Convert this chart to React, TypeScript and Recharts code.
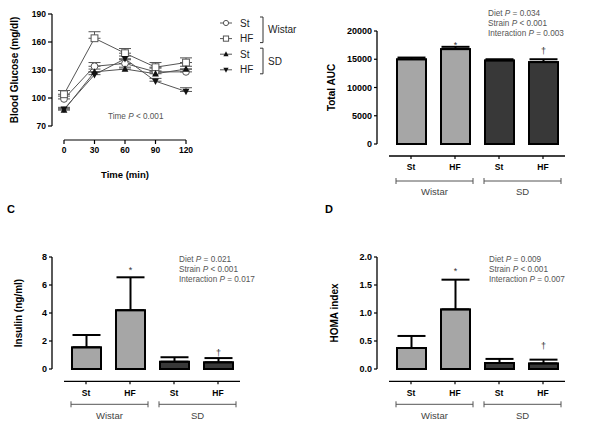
import React from 'react';
import { LineChart, Line, BarChart, Bar, XAxis, YAxis, ErrorBar, Legend, ReferenceLine } from 'recharts';

const FONT = '"Liberation Sans", Arial, sans-serif';
const LIGHT = '#a6a6a6';
const DARK = '#383838';

// A: glucose tolerance curve (mg/dl), mean and SEM
const times = [0, 30, 60, 90, 120];
const wistarSt = [99, 134, 137, 128, 128];
const wistarStErr = [3, 4, 4, 4, 3];
const wistarHF = [104, 164, 148, 133, 138];
const wistarHFErr = [4, 7, 5, 5, 5];
const sdSt = [87, 128, 131, 126, 131];
const sdStErr = [2, 3, 2, 3, 3];
const sdHF = [88, 125, 142, 118, 107];
const sdHFErr = [2, 3, 3, 3, 4];
const glucoseTicks = [70, 100, 130, 160, 190];

// groups shared by the bar panels
const diets = ['St', 'HF', 'St', 'HF'];
const strains = ['Wistar', 'Wistar', 'SD', 'SD'];
const marks = ['', '*', '', '\u2020'];

const aucMean = [15000, 16800, 14800, 14500];
const aucSem = [300, 400, 200, 500];
const aucTicks = [0, 5000, 10000, 15000, 20000];

const insulinMean = [1.55, 4.2, 0.52, 0.48];
const insulinSem = [0.88, 2.35, 0.32, 0.3];
const insulinTicks = [0, 2, 4, 6, 8];

const homaMean = [0.375, 1.065, 0.107, 0.1];
const homaSem = [0.215, 0.53, 0.073, 0.067];
const homaTicks = [0, 0.5, 1, 1.5, 2];

const glucoseSeries = [
  { key: 'wSt', name: 'St', strain: 'Wistar', marker: 'circle', values: wistarSt, errs: wistarStErr },
  { key: 'wHF', name: 'HF', strain: 'Wistar', marker: 'square', values: wistarHF, errs: wistarHFErr },
  { key: 'sSt', name: 'St', strain: 'SD', marker: 'up', values: sdSt, errs: sdStErr },
  { key: 'sHF', name: 'HF', strain: 'SD', marker: 'down', values: sdHF, errs: sdHFErr },
];

const glucoseData = times.map((t, i) => {
  const row: any = { time: t };
  glucoseSeries.forEach((s) => {
    row[s.key] = s.values[i];
    row[s.key + 'Err'] = [0, s.errs[i]];
  });
  return row;
});

const barRows = (means: number[], sems: number[]) =>
  means.map((m, i) => ({
    key: `${strains[i]}-${diets[i]}`,
    diet: diets[i],
    strain: strains[i],
    mark: marks[i],
    value: m,
    sem: sems[i],
    err: [0, sems[i]],
  }));

function Marker({ kind, cx, cy, r }: { kind: string; cx: number; cy: number; r: number }) {
  if (kind === 'circle') return <circle cx={cx} cy={cy} r={r} fill="#fff" stroke="#555" strokeWidth={1} />;
  if (kind === 'square')
    return <rect x={cx - r} y={cy - r} width={2 * r} height={2 * r} fill="#fff" stroke="#555" strokeWidth={1} />;
  if (kind === 'up')
    return <polygon points={`${cx},${cy - r * 1.1} ${cx + r},${cy + r * 0.8} ${cx - r},${cy + r * 0.8}`} fill="#111" />;
  return <polygon points={`${cx},${cy + r * 1.1} ${cx + r},${cy - r * 0.8} ${cx - r},${cy - r * 0.8}`} fill="#111" />;
}

const yTitle = (text: string, cx: number) => (props: any) => {
  const vb = props.viewBox;
  const cy = vb.y + vb.height / 2;
  return (
    <text x={cx} y={cy} transform={`rotate(-90 ${cx} ${cy})`} textAnchor="middle" dominantBaseline="central"
      fontSize={10} fontWeight="bold" fill="#000" fontFamily={FONT}>
      {text}
    </text>
  );
};

const tickStyle = (size: number) => ({ fontSize: size, fontWeight: 'bold', fill: '#000', fontFamily: FONT });

// legend keeps the series order (Recharts sorts its payload by name)
function GlucoseLegend(props: any) {
  const rowY = (i: number) => 13 + i * 15.6;
  const items = props.payload || [];
  const groups = ['Wistar', 'SD'];
  return (
    <svg width={90} height={72} style={{ overflow: 'visible' }}>
      {glucoseSeries.map((s, i) => {
        const it = items.find((p: any) => p.dataKey === s.key);
        const y = rowY(i);
        return (
          <g key={s.key}>
            <line x1={5} x2={17} y1={y} y2={y} stroke="#555" strokeWidth={1} />
            <Marker kind={s.marker} cx={11} cy={y} r={2.6} />
            <text x={25} y={y} dominantBaseline="central" fontSize={10} fill="#222" fontFamily={FONT}>{it ? it.value : s.name}</text>
          </g>
        );
      })}
      {groups.map((g, gi) => {
        const top = rowY(gi * 2) - 6;
        const bottom = rowY(gi * 2 + 1) + 4;
        return (
          <g key={g}>
            <path d={`M45,${top} H48 V${bottom} H45`} fill="none" stroke="#333" strokeWidth={1} />
            <text x={53} y={(top + bottom) / 2} dominantBaseline="central" fontSize={10} fill="#222" fontFamily={FONT}>{g}</text>
          </g>
        );
      })}
    </svg>
  );
}

function TimeTick(props: any) {
  const { x, y, payload } = props;
  return (
    <g>
      <line x1={x} x2={x} y1={y + 14} y2={y + 18} stroke="#000" strokeWidth={1.2} />
      <text x={x} y={y + 26.5} textAnchor="middle" style={tickStyle(8.5)}>{payload.value}</text>
    </g>
  );
}

function GlucoseChart() {
  return (
    <LineChart width={300} height={200} data={glucoseData} margin={{ top: 14, right: 114, bottom: 0, left: 0 }} style={{ fontFamily: FONT }}>
      <XAxis dataKey="time" type="number" domain={[0, 120]} ticks={times} padding={{ left: 12, right: 0 }}
        axisLine={false} tickLine={false} tickSize={0} tickMargin={0} height={74} tick={<TimeTick />}
        label={(p: any) => {
          const vb = p.viewBox;
          return (
            <text x={vb.x + (vb.width + 12) / 2} y={vb.y + 52} textAnchor="middle" fontSize={9.5} fontWeight="bold" fill="#000" fontFamily={FONT}>
              Time (min)
            </text>
          );
        }} />
      <YAxis domain={[70, 190]} ticks={glucoseTicks} allowDataOverflow width={52} tickSize={4} tickMargin={2}
        axisLine={{ stroke: '#000', strokeWidth: 1.2 }} tickLine={{ stroke: '#000', strokeWidth: 1.2 }}
        tick={tickStyle(8.5)} label={yTitle('Blood Glucose (mg/dl)', 14)} />
      <ReferenceLine segment={[{ x: 0, y: 55 }, { x: 120, y: 55 }]} stroke="#000" strokeWidth={1.2} ifOverflow="visible" />
      {glucoseSeries.map((s) => (
        <Line key={s.key} dataKey={s.key} name={s.name} stroke="#555" strokeWidth={1} isAnimationActive={false}
          dot={(p: any) => <Marker key={`${s.key}-${p.index}`} kind={s.marker} cx={p.cx} cy={p.cy} r={3.4} />}
          activeDot={false}>
          <ErrorBar dataKey={s.key + 'Err'} width={6} stroke="#555" strokeWidth={1} direction="y" isAnimationActive={false} />
        </Line>
      ))}
      <Legend layout="vertical" align="center" verticalAlign="middle" content={<GlucoseLegend />}
        wrapperStyle={{ left: 215, top: 10, width: 90, height: 72 }} />
    </LineChart>
  );
}

type AxisDy = { axis: number; label: number; bracket: number; group: number };

function GroupTick(props: any) {
  const { x, y, payload, index, rows, dy } = props;
  const half = payload && payload.offset ? payload.offset : 22;
  const row = rows[index];
  const startsGroup = index === 0 || rows[index - 1].strain !== row.strain;
  let span = 0;
  if (startsGroup) {
    for (let j = index; j < rows.length && rows[j].strain === row.strain; j++) span++;
  }
  const bx1 = x - half + 7;
  const bx2 = x - half + span * 2 * half - 4;
  const by = y + dy.bracket;
  return (
    <g>
      <line x1={x - half} x2={x + half} y1={y + dy.axis} y2={y + dy.axis} stroke="#000" strokeWidth={1.3} />
      <line x1={x} x2={x} y1={y + dy.axis} y2={y + dy.axis + 3} stroke="#000" strokeWidth={1.2} />
      <text x={x} y={y + dy.label} textAnchor="middle" style={tickStyle(8.5)}>{row.diet}</text>
      {startsGroup ? (
        <g>
          <path d={`M${bx1},${by - 3} V${by + 3} M${bx1},${by} H${bx2} M${bx2},${by - 3} V${by + 3}`} fill="none" stroke="#555" strokeWidth={1} />
          <text x={(bx1 + bx2) / 2} y={y + dy.group} textAnchor="middle" fontSize={9.5} fill="#444" fontFamily={FONT}>{row.strain}</text>
        </g>
      ) : null}
    </g>
  );
}

const markedBar = (lift: Record<string, number>) => (props: any) => {
  const { x, y, width, height, payload } = props;
  const pxPerUnit = payload.value ? height / payload.value : 0;
  const errTop = y - payload.sem * pxPerUnit;
  return (
    <g>
      <rect x={x} y={y} width={width} height={height} fill={payload.strain === 'Wistar' ? LIGHT : DARK} stroke="#000" strokeWidth={2} />
      {payload.mark ? (
        <text x={x + width / 2} y={errTop - (lift[payload.mark] || 0)} textAnchor="middle" fontSize={9} fill="#333" fontFamily={FONT}>
          {payload.mark}
        </text>
      ) : null}
    </g>
  );
};

function GroupBarChart(props: {
  rows: any[]; ticks: number[]; fmt?: (v: number) => string; title: string; titleX: number;
  height: number; yWidth: number; top: number; right: number; xHeight: number; dy: AxisDy; lift: Record<string, number>;
}) {
  const { rows, ticks, fmt, title, titleX, height, yWidth, top, right, xHeight, dy, lift } = props;
  return (
    <BarChart width={300} height={height} data={rows} margin={{ top, right, bottom: 0, left: 0 }} barSize={29} style={{ fontFamily: FONT }}>
      <XAxis dataKey="key" padding={{ left: 12, right: 0 }} axisLine={false} tickLine={false} tickSize={0} tickMargin={0}
        height={xHeight} interval={0} tick={(p: any) => <GroupTick key={p.index} {...p} rows={rows} dy={dy} />} />
      <YAxis domain={[ticks[0], ticks[ticks.length - 1]]} ticks={ticks} width={yWidth} tickSize={3} tickMargin={2}
        tickFormatter={fmt} axisLine={{ stroke: '#000', strokeWidth: 1.3 }} tickLine={{ stroke: '#000', strokeWidth: 1.2 }}
        tick={tickStyle(9)} label={yTitle(title, titleX)} />
      <Bar dataKey="value" isAnimationActive={false} shape={markedBar(lift)}>
        <ErrorBar dataKey="err" width={14} stroke="#000" strokeWidth={2} direction="y" isAnimationActive={false} />
      </Bar>
    </BarChart>
  );
}

const stats = [
  { x: 488, y: 16, vals: ['= 0.034', '< 0.001', '= 0.003'] },
  { x: 179, y: 261.5, vals: ['= 0.021', '< 0.001', '= 0.017'] },
  { x: 489, y: 261.5, vals: ['= 0.009', '< 0.001', '= 0.007'] },
];
const statNames = ['Diet', 'Strain', 'Interaction'];

const dyTop: AxisDy = { axis: 12, label: 25.5, bracket: 37, group: 51 };
const dyBottom: AxisDy = { axis: 12.3, label: 27, bracket: 35.3, group: 49.8 };

export default function App() {
  return (
    <div style={{ position: 'absolute', left: 0, top: 0, width: 600, height: 422, background: '#fff', fontFamily: FONT }}>
      <div style={{ position: 'absolute', left: 0, top: 0 }}>
        <GlucoseChart />
      </div>
      <div style={{ position: 'absolute', left: 300, top: 0 }}>
        <GroupBarChart rows={barRows(aucMean, aucSem)} ticks={aucTicks} title="Total AUC" titleX={31} height={200}
          yWidth={77} top={31} right={35} xHeight={56} dy={dyTop} lift={{ '*': -1, '\u2020': 5 }} />
      </div>
      <div style={{ position: 'absolute', left: 0, top: 200 }}>
        <GroupBarChart rows={barRows(insulinMean, insulinSem)} ticks={insulinTicks} title="Insulin (ng/ml)" titleX={18} height={222}
          yWidth={52} top={57} right={60} xHeight={53} dy={dyBottom} lift={{ '*': 4, '\u2020': 2.5 }} />
      </div>
      <div style={{ position: 'absolute', left: 300, top: 200 }}>
        <GroupBarChart rows={barRows(homaMean, homaSem)} ticks={homaTicks} fmt={(v) => v.toFixed(1)} title="HOMA index" titleX={34}
          height={222} yWidth={77} top={57} right={35} xHeight={53} dy={dyBottom} lift={{ '*': 6, '\u2020': 10.5 }} />
      </div>
      <svg width={600} height={422} style={{ position: 'absolute', left: 0, top: 0, pointerEvents: 'none' }} fontFamily={FONT}>
        <text x={108} y={119} fontSize={8.2} fill="#555">
          {'Time '}<tspan fontStyle="italic">P</tspan>{' < 0.001'}
        </text>
        {stats.map((s, si) =>
          statNames.map((n, i) => (
            <text key={`${si}-${n}`} x={s.x} y={s.y + i * 10} fontSize={8.2} fill="#555">
              {`${n} `}<tspan fontStyle="italic">P</tspan>{` ${s.vals[i]}`}
            </text>
          ))
        )}
        <text x={7} y={213} fontSize={11} fontWeight="bold" fill="#000">C</text>
        <text x={325} y={213} fontSize={11} fontWeight="bold" fill="#000">D</text>
      </svg>
    </div>
  );
}
